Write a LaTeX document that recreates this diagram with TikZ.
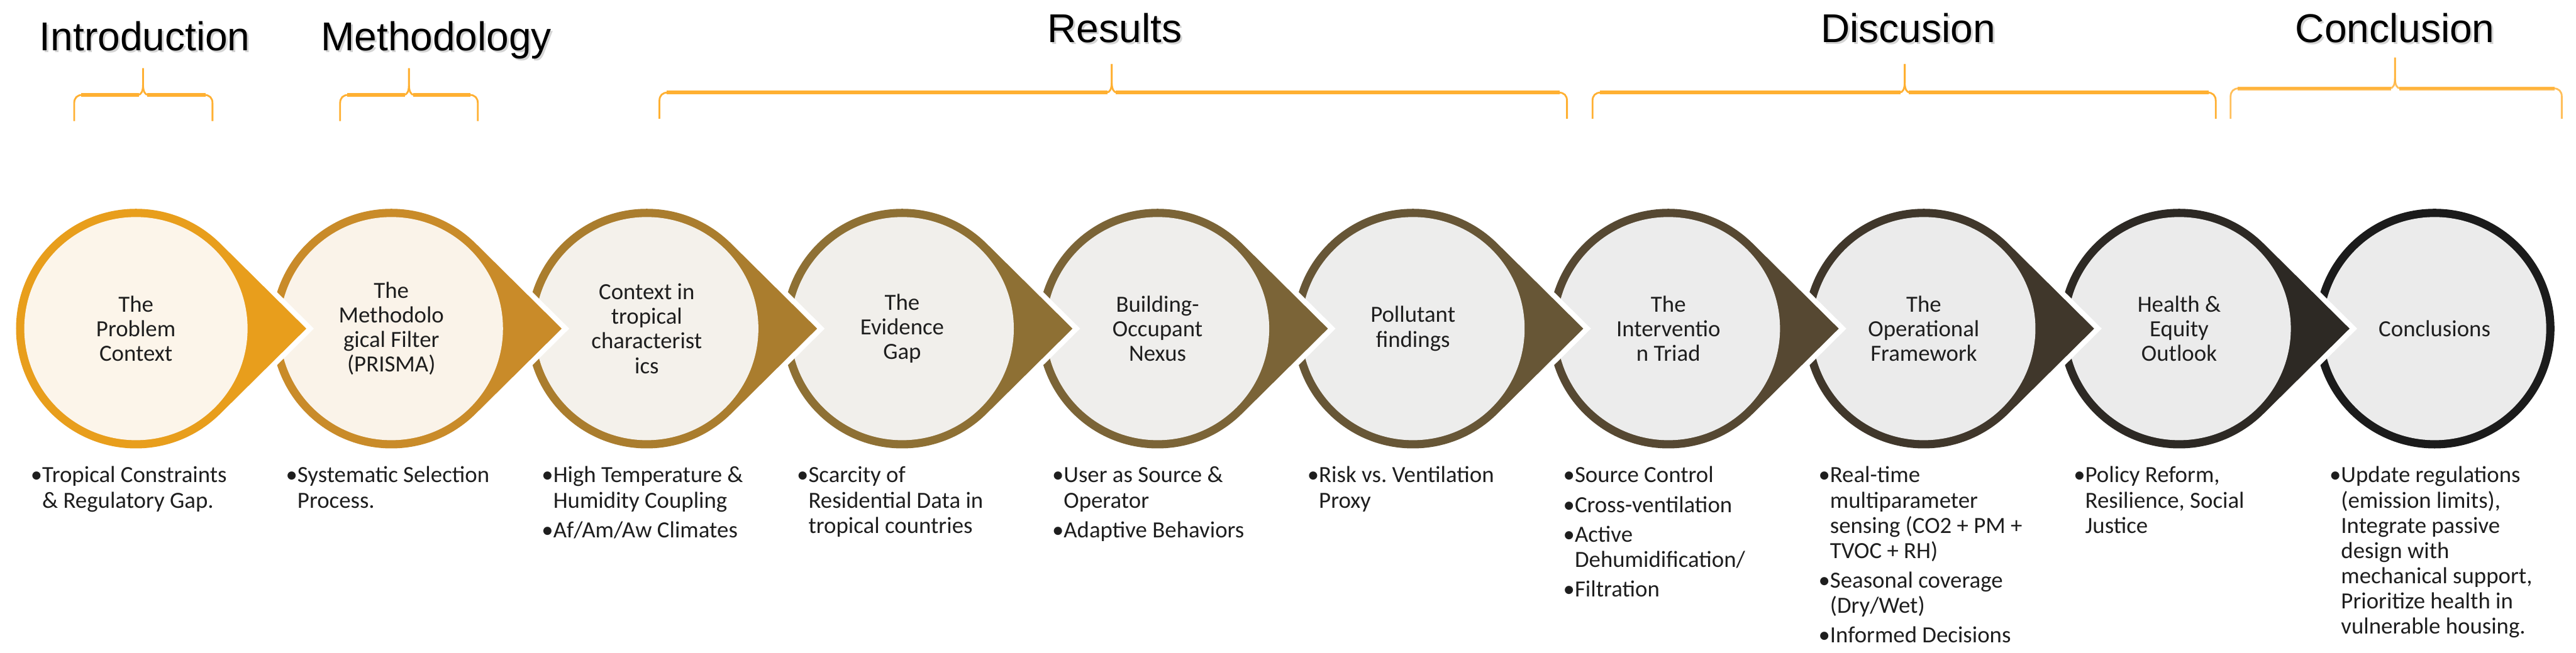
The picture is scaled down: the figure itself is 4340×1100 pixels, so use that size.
\documentclass[tikz,border=0pt]{standalone}
\usepackage{fontspec}
\setmainfont{Liberation Sans}
\newfontfamily\calib{Carlito}
\frenchspacing
\definecolor{r1}{HTML}{E89E1C}
\definecolor{r2}{HTML}{C98B29}
\definecolor{r3}{HTML}{AA7D2E}
\definecolor{r4}{HTML}{8E7034}
\definecolor{r5}{HTML}{7B6437}
\definecolor{r6}{HTML}{675636}
\definecolor{r7}{HTML}{564832}
\definecolor{r8}{HTML}{40372B}
\definecolor{r9}{HTML}{2D2924}
\definecolor{r10}{HTML}{1B1B1B}
\definecolor{f1}{HTML}{FCF5EA}
\definecolor{f2}{HTML}{FAF3E9}
\definecolor{f3}{HTML}{F4F1EB}
\definecolor{f4}{HTML}{F1EFEB}
\definecolor{f5}{HTML}{EFEEEC}
\definecolor{f6}{HTML}{EDEDEC}
\definecolor{f7}{HTML}{ECECEC}
\definecolor{f8}{HTML}{EBEBEB}
\definecolor{f9}{HTML}{EBEBEB}
\definecolor{f10}{HTML}{EBEBEB}
\definecolor{txt}{HTML}{1E1E1E}
\definecolor{brc}{HTML}{FFB032}
\newcommand\tear[2]{%
  \path[draw=white, fill=white, line width=0.18cm]
    (#1+287,554) -- ([shift={(45.27:202)}]#1,554)
    arc[start angle=45.27, end angle=314.73, radius=202] -- cycle;
  \path[fill=#2]
    (#1+287,554) -- ([shift={(45.27:202)}]#1,554)
    arc[start angle=45.27, end angle=314.73, radius=202] -- cycle;}
\newcommand\mybrace[7]{%
  \draw[brc, line width=0.03cm, #7] (#1,#6) -- (#1,#5+14) .. controls (#1,#5+5) and (#1+5,#5) .. (#1+14,#5)
    -- (#3-9,#5) .. controls (#3-3,#5) and (#3,#5-6) .. (#3,#5-18) -- (#3,#4);
  \draw[brc, line width=0.03cm, #7] (#3,#4) -- (#3,#5-18) .. controls (#3,#5-6) and (#3+3,#5) .. (#3+9,#5)
    -- (#2-14,#5) .. controls (#2-5,#5) and (#2,#5+5) .. (#2,#5+14) -- (#2,#6);
  \draw[brc, line width=0.065cm, #7] (#1+12,#5) -- (#3-7,#5) (#3+7,#5) -- (#2-12,#5);}
\begin{document}
\begin{tikzpicture}[x=0.01cm, y=-0.01cm,
  ctext/.style={circle, inner sep=0pt, minimum size=3.76cm, align=center, text=txt,
    font=\calib\fontsize{11.1pt}{11.8pt}\selectfont},
  btext/.style={anchor=north west, inner sep=0pt, align=left, text=txt,
    font=\calib\fontsize{11.1pt}{12.09pt}\selectfont},
  ttl/.style={anchor=base, inner sep=0pt, font=\fontsize{19.3pt}{23pt}\selectfont},
  shd/.style={ttl, text=gray!60, opacity=0.55}]
\useasboundingbox[fill=white] (0,0) rectangle (4340,1100);

% titles
\node[shd] (ts1) at (247,88) {Introduction};
\node[ttl] (t1) at (244,85) {Introduction};
\node[shd] (ts2) at (738,88) {Methodology};
\node[ttl] (t2) at (735,85) {Methodology};
\node[shd] (ts3) at (1881,75) {Results};
\node[ttl] (t3) at (1878,72) {Results};
\node[shd] (ts4) at (3218,75) {Discusion};
\node[ttl] (t4) at (3215,72) {Discusion};
\node[shd] (ts5) at (4038,75) {Conclusion};
\node[ttl] (t5) at (4035,72) {Conclusion};

% braces
\mybrace{125}{358}{241}{115}{160}{204}{}
\mybrace{573}{805}{689}{115}{160}{204}{}
\mybrace{1111}{2640}{1873}{108}{156}{200}{}
\mybrace{2683}{3733}{3209}{108}{156}{200}{}
\mybrace{3758}{4316}{4035}{97}{149}{200}{opacity=0.8}

% circles, drawn right to left
\path[fill=r10] (4101.7,554) circle[radius=202];
\node[ctext, fill=f10] (c10) at (4101.7,554) {Conclusions};
\tear{3671.4}{r9}
\node[ctext, fill=f9] (c9) at (3671.4,554) {Health \&\\Equity\\Outlook};
\tear{3241.1}{r8}
\node[ctext, fill=f8] (c8) at (3241.1,554) {The\\Operational\\Framework};
\tear{2810.8}{r7}
\node[ctext, fill=f7] (c7) at (2810.8,554) {The\\Interventio\\n Triad};
\tear{2380.5}{r6}
\node[ctext, fill=f6] (c6) at (2380.5,554) {Pollutant\\findings};
\tear{1950.2}{r5}
\node[ctext, fill=f5] (c5) at (1950.2,554) {Building-\\Occupant\\Nexus};
\tear{1519.9}{r4}
\node[ctext, fill=f4] (c4) at (1519.9,554) {The\\Evidence\\Gap};
\tear{1089.6}{r3}
\node[ctext, fill=f3] (c3) at (1089.6,554) {Context in\\tropical\\characterist\\ics};
\tear{659.3}{r2}
\node[ctext, fill=f2] (c2) at (659.3,554) {The\\Methodolo\\gical Filter\\(PRISMA)};
\tear{229}{r1}
\node[ctext, fill=f1] (c1) at (229,554) {The\\Problem\\Context};

% bullet texts
\node[btext] (b1) at (51,783.25) {\strut•Tropical Constraints\\\phantom{•}\& Regulatory Gap.};
\node[btext] (b2) at (481,783.25) {\strut•Systematic Selection\\\phantom{•}Process.};
\node[btext] (b3) at (912,783.25) {\strut•High Temperature \&\\\phantom{•}Humidity Coupling\\[2.1pt]•Af/Am/Aw Climates};
\node[btext] (b4) at (1342,783.25) {\strut•Scarcity of\\\phantom{•}Residential Data in\\\phantom{•}tropical countries};
\node[btext] (b5) at (1772,783.25) {\strut•User as Source \&\\\phantom{•}Operator\\[2.1pt]•Adaptive Behaviors};
\node[btext] (b6) at (2202,783.25) {\strut•Risk vs. Ventilation\\\phantom{•}Proxy};
\node[btext] (b7) at (2633,783.25) {\strut•Source Control\\[2.1pt]•Cross-ventilation\\[2.1pt]•Active\\\phantom{•}Dehumidification/\\[2.1pt]•Filtration};
\node[btext] (b8) at (3063,783.25) {\strut•Real-time\\\phantom{•}multiparameter\\\phantom{•}sensing (CO2 + PM +\\\phantom{•}TVOC + RH)\\[2.1pt]•Seasonal coverage\\\phantom{•}(Dry/Wet)\\[2.1pt]•Informed Decisions};
\node[btext] (b9) at (3493,783.25) {\strut•Policy Reform,\\\phantom{•}Resilience, Social\\\phantom{•}Justice};
\node[btext] (b10) at (3924,783.25) {\strut•Update regulations\\\phantom{•}(emission limits),\\\phantom{•}Integrate passive\\\phantom{•}design with\\\phantom{•}mechanical support,\\\phantom{•}Prioritize health in\\\phantom{•}vulnerable housing.};
\end{tikzpicture}
\end{document}
